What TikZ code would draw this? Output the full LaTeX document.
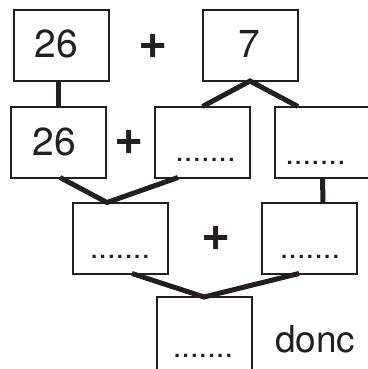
\documentclass[tikz,border=0pt]{standalone}
\usepackage{fontspec}
\setmainfont{TeX Gyre Heros}
\definecolor{ink}{HTML}{231F20}
\begin{document}
\begin{tikzpicture}[x=1pt,y=-1pt,
  box/.style={draw=ink,line width=2pt,minimum width=95pt,minimum height=71pt,inner sep=0pt,outer sep=0pt},
  num/.style={text=ink,inner sep=0pt,font=\fontsize{39}{39}\selectfont},
  dotsl/.style={text=ink,inner sep=0pt,font=\fontsize{31}{31}\selectfont},
  plus/.style={text=ink,inner sep=0pt,font=\fontsize{50}{50}\selectfont\bfseries},
  link/.style={draw=ink,line width=5pt,line join=miter}]
\useasboundingbox (0,0) rectangle (367,369);
% boxes
\node[box] (A) at (61.5,45.5) {};
\node[box] (B) at (250,45.5) {};
\node[box] (C) at (58.5,142) {};
\node[box] (D) at (202.5,142) {};
\node[box] (E) at (322.5,142) {};
\node[box] (F) at (120,238) {};
\node[box] (G) at (309.5,238) {};
\node[box,minimum height=74pt] (H) at (204,334) {};
% texts
\node[num] (tA) at (56.5,43.5) {26};
\node[num] (tB) at (249,43.5) {7};
\node[num] (tC) at (54.5,141.5) {26};
\node[dotsl] (dD) at (205.5,160) {.......};
\node[dotsl] (dE) at (315.5,163) {.......};
\node[dotsl] (dF) at (120,257) {.......};
\node[dotsl] (dG) at (310,257) {.......};
\node[dotsl] (dH) at (203,356) {.......};
\node[plus] (p1) at (153.5,46.5) {+};
\node[plus] (p2) at (129,142.5) {+};
\node[plus] (p3) at (216.5,238) {+};
\node[text=ink,anchor=base west,inner sep=0pt,font=\fontsize{37}{37}\selectfont] (donc) at (275,352) {donc};
% connectors
\draw[link] ([xshift=-3.5pt]A.south) -- ([xshift=-0.5pt]C.north);
\draw[link] (D.north) -- (B.south) -- ([xshift=-24.5pt]E.north);
\draw[link] ([xshift=1.5pt]C.south) -- ([xshift=-13pt]F.north) -- ([xshift=-24.5pt]D.south);
\draw[link] (E.south) -- ([xshift=13.5pt]G.north);
\draw[link] ([xshift=12pt]F.south) -- (H.north) -- ([xshift=-10.5pt]G.south);
\end{tikzpicture}
\end{document}
